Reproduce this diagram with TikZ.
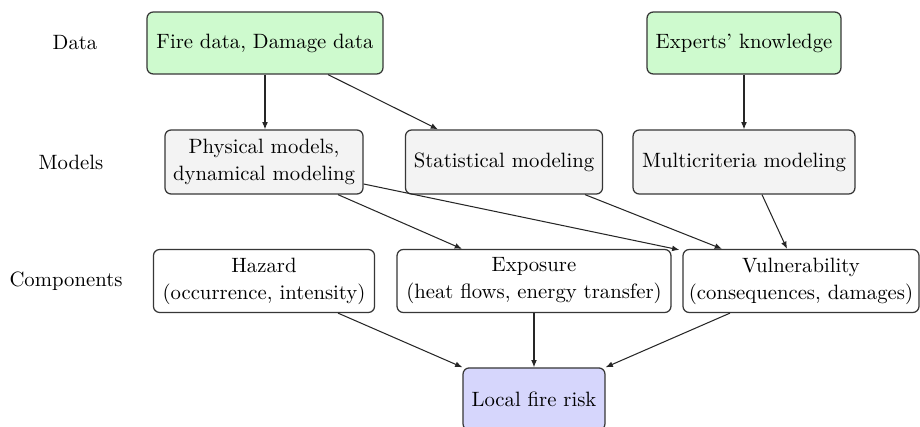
\documentclass[tikz,border=0pt]{standalone}
\usetikzlibrary{calc,arrows.meta}
\definecolor{datafill}{RGB}{206,250,206}
\definecolor{modelfill}{RGB}{243,243,243}
\definecolor{riskfill}{RGB}{214,214,252}
\definecolor{edgecol}{RGB}{55,55,55}
\begin{document}
\begin{tikzpicture}[x=0.4826pt,y=-0.4826pt,
  box/.style={draw=edgecol,line width=0.6pt,rounded corners=3pt,align=center,inner sep=0pt,
    font=\fontsize{10}{13}\selectfont},
  databox/.style={box,fill=datafill},
  modelbox/.style={box,fill=modelfill},
  compbox/.style={box,fill=white},
  riskbox/.style={box,fill=riskfill},
  rowlabel/.style={font=\fontsize{10}{12}\selectfont},
  arr/.style={-{Latex[length=3.5pt,width=2.8pt]},line width=0.5pt,draw=black!85}]
\clip (0,0) rectangle (920,427);
\fill[white] (0,0) rectangle (920,427);
% row labels
\node[rowlabel] (ldata) at (75,43) {Data};
\node[rowlabel] (lmodels) at (71,162) {Models};
\node[rowlabel] (lcomp) at (66,281) {Components};
% data
\node[databox,minimum width=113.9pt,minimum height=29.9pt] (fire) at (265,43) {Fire data, Damage data};
\node[databox,minimum width=93.6pt,minimum height=29.9pt] (expk) at (744,43) {Experts' knowledge};
% models
\node[modelbox,minimum width=95.6pt,minimum height=30.9pt] (phys) at (264,162) {Physical models,\\dynamical modeling};
\node[modelbox,minimum width=95.1pt,minimum height=30.9pt] (stat) at (504,162) {Statistical modeling};
\node[modelbox,minimum width=107.1pt,minimum height=30.9pt] (multi) at (744,162) {Multicriteria modeling};
% components
\node[compbox,minimum width=106.7pt,minimum height=30.4pt] (haz) at (264,281) {Hazard\\(occurrence, intensity)};
\node[compbox,minimum width=132.2pt,minimum height=30.4pt] (expo) at (534,281) {Exposure\\(heat flows, energy transfer)};
\node[compbox,minimum width=113.9pt,minimum height=30.4pt] (vul) at (801,281) {Vulnerability\\(consequences, damages)};
% risk
\node[riskbox,minimum width=68.5pt,minimum height=30pt] (risk) at (534,399) {Local fire risk};
% arrows
\draw[arr] (fire.south) -- (fire.south |- phys.north);
\draw[arr] ($(fire.south)+(63,0)$) -- ($(stat.north)+(-66,0)$);
\draw[arr] (expk.south) -- (multi.north);
\draw[arr] ($(phys.south)+(74,0)$) -- ($(expo.north)+(-72,0)$);
\draw[arr] ($(phys.east)+(0,22)$) -- ($(vul.north west)+(-3,1)$);
\draw[arr] ($(stat.south)+(81,0)$) -- ($(vul.north)+(-79,0)$);
\draw[arr] ($(multi.south)+(18,0)$) -- ($(vul.north)+(-14,0)$);
\draw[arr] ($(haz.south)+(74,0)$) -- (risk.north west);
\draw[arr] (expo.south) -- (risk.north);
\draw[arr] ($(vul.south)+(-71,0)$) -- (risk.north east);
\end{tikzpicture}
\end{document}
